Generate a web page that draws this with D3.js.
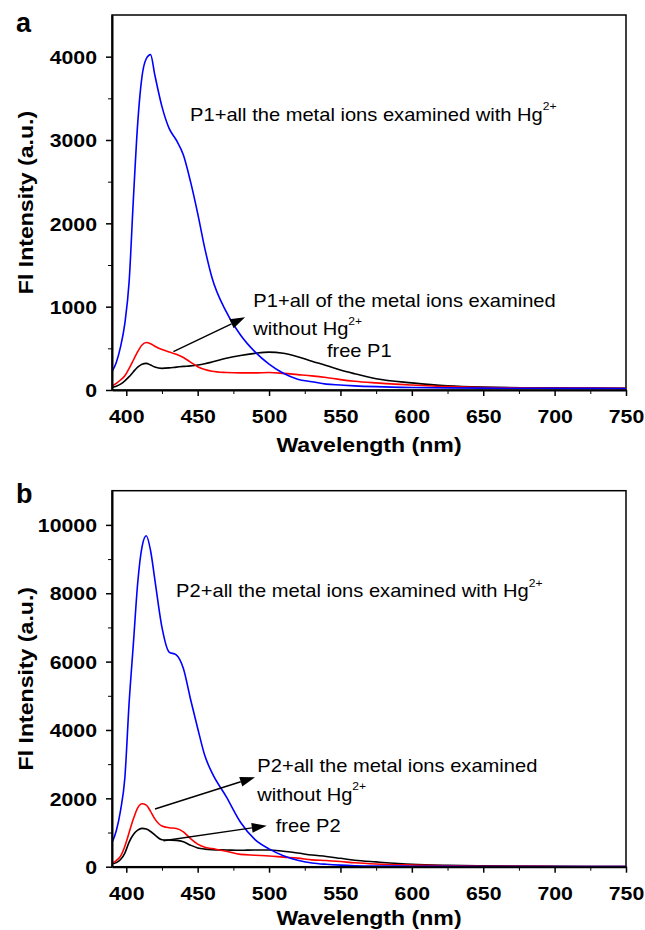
<!DOCTYPE html>
<html>
<head>
<meta charset="utf-8">
<script src="https://cdn.jsdelivr.net/npm/d3@7"></script>
<style>
  body { margin: 0; background: #fff; }
  svg text { font-family: "Liberation Sans", Arial, sans-serif; fill: #000; }
</style>
</head>
<body>
<div id="chart"></div>
<script>
// wavelength grid (nm), shared by all curves
const wavelengths = [390, 393, 396, 399, 402, 405, 408, 411, 414, 417, 420, 425, 430, 435, 440, 445,
  450, 455, 460, 470, 480, 490, 500, 510, 520, 530, 540, 550, 560, 575, 600, 625, 650, 700, 750];

// panel a (P1)
const p1WithHg = [220, 330, 520, 800, 1300, 2300, 3200, 3760, 3975, 4025, 3780, 3400, 3140, 3000, 2820, 2500,
  2120, 1700, 1350, 940, 660, 460, 310, 200, 130, 100, 70, 60, 50, 40, 30, 25, 22, 20, 18];
const p1WithoutHg = [50, 80, 120, 170, 260, 360, 460, 540, 570, 555, 525, 485, 455, 430, 390, 335,
  280, 245, 225, 210, 205, 205, 210, 200, 185, 170, 150, 125, 105, 85, 60, 40, 30, 24, 20];
const p1Free = [30, 45, 70, 110, 160, 220, 275, 310, 320, 300, 275, 260, 265, 275, 283, 290,
  300, 315, 335, 380, 415, 440, 455, 440, 400, 345, 295, 240, 195, 135, 85, 50, 35, 25, 20];

// panel b (P2)
const p2WithHg = [700, 1050, 1650, 2600, 4800, 6540, 8300, 9350, 9680, 9250, 8400, 7000, 6280, 6200, 5800, 4900,
  4050, 3250, 2750, 2050, 1300, 800, 520, 320, 190, 110, 70, 45, 30, 20, 15, 10, 8, 5, 5];
const p2WithoutHg = [100, 180, 310, 600, 1000, 1400, 1720, 1840, 1800, 1620, 1400, 1190, 1140, 1120, 1020, 820,
  660, 570, 530, 450, 360, 335, 315, 280, 250, 200, 180, 150, 115, 80, 50, 30, 15, 8, 5];
const p2Free = [80, 120, 210, 400, 720, 940, 1070, 1120, 1100, 1030, 930, 790, 780, 770, 730, 630,
  550, 515, 500, 490, 480, 490, 490, 450, 400, 340, 300, 245, 190, 140, 70, 40, 25, 10, 5];

const xMajor = [400, 450, 500, 550, 600, 650, 700, 750];
const xMinor = [425, 475, 525, 575, 625, 675, 725];
const yMajorA = [0, 1000, 2000, 3000, 4000];
const yMinorA = [500, 1500, 2500, 3500];
const yMajorB = [0, 2000, 4000, 6000, 8000, 10000];
const yMinorB = [1000, 3000, 5000, 7000, 9000];

const W = 645, H = 930;
const SX = 1.15;  // the original text is a bit wide

const svg = d3.select("#chart").append("svg")
  .attr("width", W).attr("height", H);

function drawPanel(opt) {
  const x = d3.scaleLinear().domain([390, 750]).range([112, 626]);
  const y = d3.scaleLinear().domain([0, opt.yMax]).range([opt.bottom, opt.top]);
  const g = svg.append("g");

  g.append("clipPath").attr("id", "clip-" + opt.id)
    .append("rect")
      .attr("x", x(390)).attr("y", y(opt.yMax))
      .attr("width", x(750) - x(390)).attr("height", y(0) - y(opt.yMax));

  // frame top / right
  g.append("rect")
    .attr("x", x(390)).attr("y", y(opt.yMax))
    .attr("width", x(750) - x(390)).attr("height", y(0) - y(opt.yMax))
    .attr("fill", "none").attr("stroke", "#000").attr("stroke-width", 1.5);

  const line = d3.line()
    .x((d, i) => x(wavelengths[i]))
    .y(d => y(d))
    .curve(d3.curveMonotoneX);

  const curves = g.append("g").attr("clip-path", `url(#clip-${opt.id})`);
  opt.series.forEach(s => {
    curves.append("path")
      .attr("d", line(s.values))
      .attr("fill", "none")
      .attr("stroke", s.color)
      .attr("stroke-width", 1.6);
  });

  // x axis
  const xAxis = g.append("g").attr("transform", `translate(0,${y(0)})`)
    .call(d3.axisBottom(x).tickValues(xMajor).tickSize(6).tickSizeOuter(0).tickFormat(d3.format("d")));
  g.append("g").attr("transform", `translate(0,${y(0)})`)
    .call(d3.axisBottom(x).tickValues(xMinor).tickSize(4).tickSizeOuter(0).tickFormat(""))
    .select(".domain").remove();
  xAxis.select(".domain").attr("stroke-width", 2);
  xAxis.selectAll(".tick line").attr("stroke-width", 1.5);
  xAxis.selectAll(".tick text")
    .attr("x", null).attr("y", null).attr("dy", null)
    .attr("transform", `translate(0,32.8) scale(1.12,1)`)
    .attr("font-size", 19).attr("font-weight", "bold");

  // y axis
  const yAxis = g.append("g").attr("transform", `translate(${x(390)},0)`)
    .call(d3.axisLeft(y).tickValues(opt.yMajor).tickSize(6).tickSizeOuter(0).tickFormat(d3.format("d")));
  g.append("g").attr("transform", `translate(${x(390)},0)`)
    .call(d3.axisLeft(y).tickValues(opt.yMinor).tickSize(4).tickSizeOuter(0).tickFormat(""))
    .select(".domain").remove();
  yAxis.select(".domain").attr("stroke-width", 2);
  yAxis.selectAll(".tick line").attr("stroke-width", 1.5);
  yAxis.selectAll(".tick text")
    .attr("x", null).attr("y", null).attr("dy", null)
    .attr("transform", `translate(-15,6.7) scale(1.12,1)`)
    .attr("font-size", 19).attr("font-weight", "bold");
  svg.selectAll(".tick line, .domain").attr("stroke", "#000");

  // axis titles
  g.append("text")
    .attr("transform", `translate(${(x(390) + x(750)) / 2},${y(0) + opt.titleGap}) scale(1.1,1)`)
    .attr("text-anchor", "middle").attr("font-size", 21).attr("font-weight", "bold")
    .text("Wavelength (nm)");
  g.append("text")
    .attr("transform", `translate(33,${(y(0) + y(opt.yMax)) / 2}) rotate(-90) scale(1.1,1)`)
    .attr("text-anchor", "middle").attr("font-size", 21).attr("font-weight", "bold")
    .text("Fl Intensity (a.u.)");

  // panel letter
  g.append("text")
    .attr("x", 16).attr("y", opt.letterY)
    .attr("font-size", 27).attr("font-weight", "bold")
    .text(opt.letter);

  // annotations
  opt.notes.forEach(n => {
    const t = g.append("text")
      .attr("transform", `translate(${x(n.at[0])},${y(n.at[1])}) scale(${SX},1)`)
      .attr("font-size", 17.5);
    t.append("tspan").text(n.text);
    if (n.sup) {
      t.append("tspan").attr("dy", -10.5).attr("font-size", 10.5).text(n.sup);
    }
  });

  opt.arrows.forEach(a => {
    const x1 = x(a.from[0]), y1 = y(a.from[1]);
    const x2 = x(a.to[0]), y2 = y(a.to[1]);
    const ang = Math.atan2(y2 - y1, x2 - x1);
    const len = 15, half = 5;
    const bx = x2 - len * Math.cos(ang), by = y2 - len * Math.sin(ang);
    g.append("line")
      .attr("x1", x1).attr("y1", y1).attr("x2", bx).attr("y2", by)
      .attr("stroke", "#000").attr("stroke-width", 1.4);
    g.append("path")
      .attr("d", d3.line()([
        [x2, y2],
        [bx + half * Math.sin(ang), by - half * Math.cos(ang)],
        [bx - half * Math.sin(ang), by + half * Math.cos(ang)]
      ]) + "Z")
      .attr("fill", "#000");
  });
}

drawPanel({
  id: "a", letter: "a", letterY: 32,
  top: 15, bottom: 390, yMax: 4500, titleGap: 61.5,
  yMajor: yMajorA, yMinor: yMinorA,
  series: [
    {values: p1Free, color: "#000000"},
    {values: p1WithoutHg, color: "#ff0000"},
    {values: p1WithHg, color: "#0000ff"}
  ],
  notes: [
    {at: [444.7, 3232], text: "P1+all the metal ions examined with Hg", sup: "2+"},
    {at: [489, 1002], text: "P1+all of the metal ions examined"},
    {at: [489, 660], text: "without Hg", sup: "2+"},
    {at: [540.5, 400], text: "free P1"}
  ],
  arrows: [
    {from: [433, 460], to: [483.2, 872]}
  ]
});

drawPanel({
  id: "b", letter: "b", letterY: 503,
  top: 490.7, bottom: 866.7, yMax: 11000, titleGap: 58.3,
  yMajor: yMajorB, yMinor: yMinorB,
  series: [
    {values: p2Free, color: "#000000"},
    {values: p2WithoutHg, color: "#ff0000"},
    {values: p2WithHg, color: "#0000ff"}
  ],
  notes: [
    {at: [434.9, 7885], text: "P2+all the metal ions examined with Hg", sup: "2+"},
    {at: [491.8, 2780], text: "P2+all the metal ions examined"},
    {at: [491.8, 1932], text: "without Hg", sup: "2+"},
    {at: [504.7, 1024], text: "free P2"}
  ],
  arrows: [
    {from: [420.1, 1689], to: [490.2, 2617]},
    {from: [426, 761], to: [498.4, 1200]}
  ]
});
</script>
</body>
</html>
